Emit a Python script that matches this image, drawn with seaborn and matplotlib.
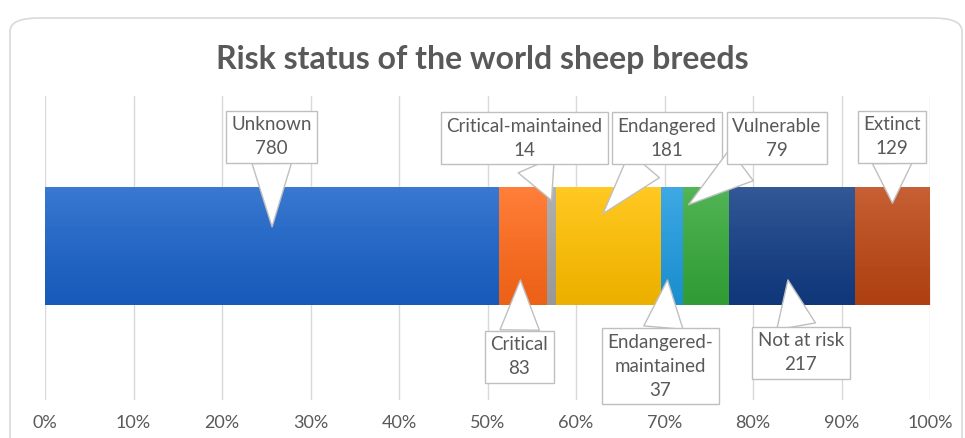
import numpy as np
import pandas as pd
import matplotlib.pyplot as plt
import seaborn as sns
from matplotlib.patches import FancyBboxPatch

# Data
statuses = ['Unknown', 'Critical', 'Critical-maintained', 'Endangered',
            'Endangered-\nmaintained', 'Vulnerable', 'Not at risk', 'Extinct']
counts = [780, 83, 14, 181, 37, 79, 217, 129]
colors = ['#1a63c9', '#ff6a1a', '#a5a5a5', '#ffc000',
          '#1f9be0', '#36a93a', '#133d85', '#bd4714']

# Callout layout: label centre (x in %, y in axis units), tip position as fraction of segment
label_x = [25.6, 53.6, 54.2, 70.3, 69.5, 82.7, 85.4, 95.7]
label_y = [-0.74, 0.75, -0.73, -0.73, 0.815, -0.73, 0.725, -0.74]
tip_frac = [0.5, 0.44, 0.5, 0.45, 0.3, 0.13, 0.47, 0.5]
tip_y = [-0.13, 0.23, -0.31, -0.22, 0.23, -0.28, 0.23, -0.29]

df = pd.DataFrame({'status': statuses, 'count': counts})
df['pct'] = df['count'] / df['count'].sum() * 100
df['right'] = df['pct'].cumsum()
df['left'] = df['right'] - df['pct']
df['row'] = 'World'

sns.set_style('white')
plt.rcParams['font.family'] = ['Lato', 'DejaVu Sans']

fig = plt.figure(figsize=(9.65, 4.38), dpi=100)
ax = fig.add_axes([45 / 965, 38 / 438, 885 / 965, 304 / 438])

# Stacked bar: draw cumulative totals from the longest to the shortest
for i in reversed(range(len(df))):
    sns.barplot(data=df.iloc[[i]], x='right', y='row', orient='h', color=colors[i],
                saturation=1, width=0.8, linewidth=0, ax=ax, zorder=2)

# light gradient to imitate the shaded look
grad = np.zeros((100, 1, 4))
grad[:, 0, :3] = 1.0
grad[:, 0, 3] = np.linspace(0.2, 0.0, 100) ** 1.2
ax.imshow(grad, extent=[0, 100, 0.4, -0.4], aspect='auto', zorder=3, interpolation='bilinear')
shade = np.zeros((100, 1, 4))
shade[:, 0, 3] = np.linspace(0.0, 0.08, 100)
ax.imshow(shade, extent=[0, 100, 0.4, -0.4], aspect='auto', zorder=3, interpolation='bilinear')

ax.set_xlim(0, 100)
ax.set_ylim(1.044, -1.017)
ax.set_xticks(np.arange(0, 101, 10))
ax.set_xticklabels([f'{t}%' for t in range(0, 101, 10)], fontsize=13, color='#595959')
ax.tick_params(axis='x', length=0, pad=11)
ax.set_yticks([])
ax.set_xlabel('')
ax.set_ylabel('')
ax.grid(axis='x', color='#d9d9d9', linewidth=1, zorder=0)
ax.set_axisbelow(True)
for s in ax.spines.values():
    s.set_visible(False)

# Callouts
for i, row in df.iterrows():
    tx = row['left'] + tip_frac[i] * row['pct']
    ax.annotate(f"{row['status']}\n{row['count']}", xy=(tx, tip_y[i]),
                xytext=(label_x[i], label_y[i]), textcoords='data',
                ha='center', va='center', fontsize=13.5, color='#595959',
                linespacing=1.5, zorder=5,
                bbox=dict(boxstyle='square,pad=0.3', fc='white', ec='#bfbfbf', lw=1),
                arrowprops=dict(arrowstyle='wedge,tail_width=2.1', fc='white', ec='#bfbfbf',
                                lw=1, shrinkA=0, shrinkB=0))

fig.text(482 / 965, 1 - 60 / 438, 'Risk status of the world sheep breeds', ha='center', va='center',
         fontsize=23, fontweight='bold', color='#595959')

# rounded outer frame
frame = FancyBboxPatch((10 / 965, -0.1), 952 / 965, (438 - 18) / 438 + 0.1,
                       boxstyle='round,pad=0,rounding_size=0.03', transform=fig.transFigure,
                       fc='none', ec='#d9d9d9', lw=1.2)
fig.patches.append(frame)

fig.savefig('out.png', dpi=100)
